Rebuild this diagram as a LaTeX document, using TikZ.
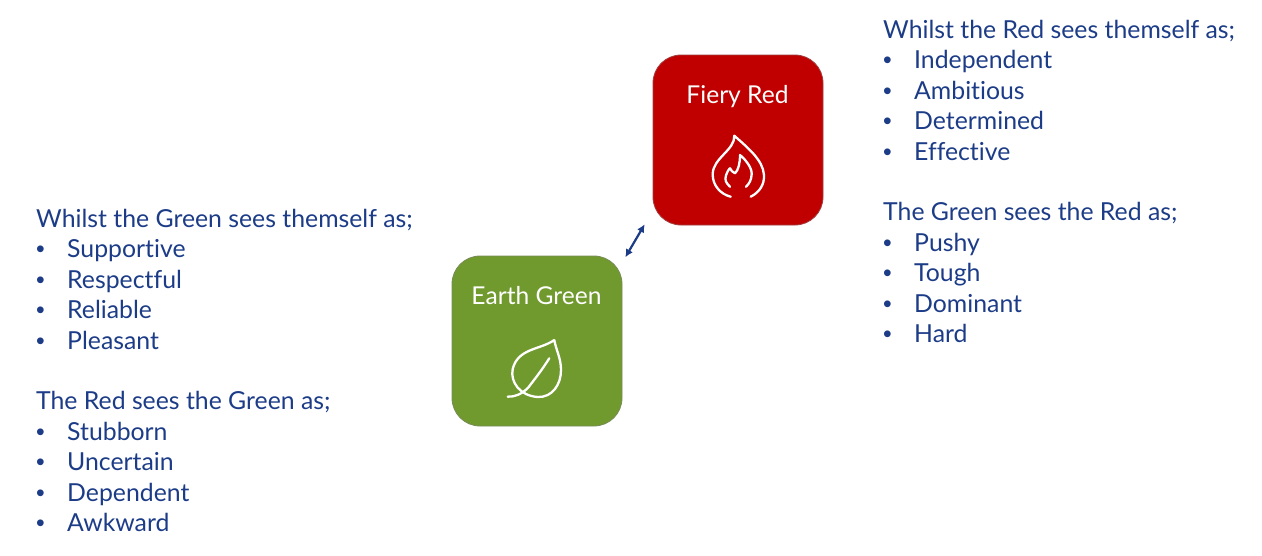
\documentclass[tikz,border=0pt]{standalone}
\usepackage{fontspec}
\setmainfont[Ligatures=NoCommon]{Lato}
\newfontfamily\bulletfont{Liberation Sans}
\definecolor{navy}{HTML}{1C3C87}
\definecolor{fiery}{HTML}{C00000}
\definecolor{earth}{HTML}{70992E}
\newcommand{\bl}[1]{\makebox[31pt][l]{\bulletfont •}#1}
\usetikzlibrary{arrows.meta}
\tikzset{
  card/.style={draw=#1,line width=0.8pt,rounded corners=28pt,minimum width=170pt,minimum height=170pt,inner sep=0pt},
  cardtitle/.style={text=white,font=\fontsize{24.6}{30}\selectfont,anchor=base,inner sep=0pt},
  listblock/.style={text=navy,font=\fontsize{24.8}{30.4}\selectfont,align=left,anchor=north west,inner sep=0pt},
  icon/.style={draw=white,line width=2.3pt,line cap=round,line join=round},
  link/.style={draw=navy,line width=2.2pt,{Latex[length=8pt,width=8pt]}-{Latex[length=8pt,width=8pt]}}
}
\begin{document}
\begin{tikzpicture}[x=1pt,y=-1pt]
\useasboundingbox (0,0) rectangle (1262,555);
\node[card=fiery!50!gray,fill=fiery] (red) at (738,140) {};
\node[card=earth!50!gray,fill=earth] (green) at (537,341) {};
\node[cardtitle] (redtitle) at (737.5,103) {Fiery Red};
\node[cardtitle] (greentitle) at (536.5,304) {Earth Green};
\coordinate (la) at (644.7,224.3);
\coordinate (lb) at (625.3,257.3);
\draw[link] (lb) -- (la);
% flame
\draw[icon] (750.7,196.7) .. controls (760,192) and (764.5,184) .. (764,175)
  .. controls (763,160) and (748,148) .. (734.3,135.7)
  .. controls (735,150) and (713,158) .. (712.7,174)
  .. controls (712.5,185) and (720,194) .. (730.7,196.7);
\draw[icon] (730,186.7) .. controls (726,183) and (724.5,180) .. (726,175.5)
  .. controls (727,172) and (729,169) .. (730,168.3)
  .. controls (731,170) and (732.5,172.5) .. (735,173.3)
  .. controls (738.5,170) and (740,163) .. (740,155)
  .. controls (746,160) and (752,168) .. (751.7,174)
  .. controls (751.5,180) and (749,184) .. (746,186.7);
% leaf
\draw[icon] (554.3,340) .. controls (540,350) and (518,348) .. (512.7,369)
  .. controls (510,382) and (520,396) .. (538,397)
  .. controls (552,397.5) and (561,385) .. (561,370)
  .. controls (561,358) and (556,350) .. (554.3,340);
\draw[icon] (549.3,358.3) .. controls (542,370) and (534,380) .. (528.3,387.5)
  .. controls (522,394) and (515,397) .. (507.7,396.7);
\node[listblock] (leftlist) at (36,209) {Whilst the Green sees themself as;\\
\bl{Supportive}\\ \bl{Respectful}\\ \bl{Reliable}\\ \bl{Pleasant}\\ \mbox{}\\
The Red sees the Green as;\\
\bl{Stubborn}\\ \bl{Uncertain}\\ \bl{Dependent}\\ \bl{Awkward}};
\node[listblock] (rightlist) at (883,20) {Whilst the Red sees themself as;\\
\bl{Independent}\\ \bl{Ambitious}\\ \bl{Determined}\\ \bl{Effective}\\ \mbox{}\\
The Green sees the Red as;\\
\bl{Pushy}\\ \bl{Tough}\\ \bl{Dominant}\\ \bl{Hard}};
\end{tikzpicture}
\end{document}
